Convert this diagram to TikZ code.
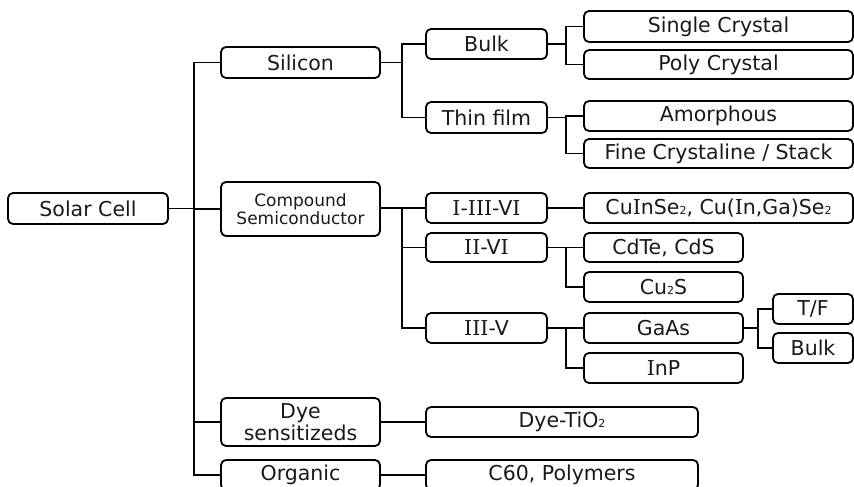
\documentclass[tikz,border=0pt]{standalone}
\usepackage{fontspec}
\setmainfont{DejaVu Sans}
\newfontfamily\serfam{DejaVu Serif}
\newcommand{\smsub}[1]{{\fontsize{11}{11}\selectfont #1}}
\newcommand{\Ii}{{\serfam I}}
\begin{document}
\begin{tikzpicture}[x=1pt,y=-1pt,
  box/.style={draw=black,line width=1.8pt,rounded corners=5pt,inner sep=0pt,align=center,text=black!90,font=\fontsize{20.5}{22}\selectfont},
  link/.style={line width=1.8pt}]
\useasboundingbox (0,0) rectangle (854,487);
\clip (0,0) rectangle (854,487);
% level 0
\node[box,minimum width=160pt,minimum height=31pt] (sc) at (88,208.5) {Solar Cell};
% level 1
\node[box,minimum width=159pt,minimum height=31pt] (si) at (300.5,62.5) {Silicon};
\node[box,minimum width=159pt,minimum height=54pt,font=\fontsize{17}{18.5}\selectfont] (cs) at (300.5,209) {Compound\\Semiconductor};
\node[box,minimum width=159pt,minimum height=48pt] (dye) at (300.5,422) {Dye\\sensitizeds};
\node[box,minimum width=159pt,minimum height=30pt] (org) at (300.5,475) {Organic};
% level 2
\node[box,minimum width=121pt,minimum height=30pt] (bulk) at (486.5,44) {Bulk};
\node[box,minimum width=121pt,minimum height=31pt] (thin) at (486.5,117.5) {Thin film};
\node[box,minimum width=121pt,minimum height=30pt] (i3) at (486.5,208) {\Ii-\Ii\Ii\Ii-V\Ii};
\node[box,minimum width=121pt,minimum height=29pt] (ii6) at (486.5,247.5) {\Ii\Ii-V\Ii};
\node[box,minimum width=121pt,minimum height=30pt] (iii5) at (486.5,328) {\Ii\Ii\Ii-V};
\node[box,minimum width=272pt,minimum height=30pt] (dyet) at (562,422) {Dye-TiO\smsub{2}};
\node[box,minimum width=272pt,minimum height=30pt] (c60) at (562,475) {C60, Polymers};
% level 3
\node[box,minimum width=269pt,minimum height=31pt] (sing) at (718.5,26.5) {Single Crystal};
\node[box,minimum width=269pt,minimum height=29pt] (poly) at (718.5,64.5) {Poly Crystal};
\node[box,minimum width=269pt,minimum height=30pt] (amor) at (718.5,116) {Amorphous};
\node[box,minimum width=269pt,minimum height=29pt] (fine) at (718.5,153.5) {Fine Crystaline / Stack};
\node[box,minimum width=269pt,minimum height=30pt] (cuin) at (718.5,208) {Cu\Ii nSe\smsub{2}, Cu(\Ii n,Ga)Se\smsub{2}};
\node[box,minimum width=159pt,minimum height=29pt] (cdte) at (663.5,247.5) {CdTe, CdS};
\node[box,minimum width=159pt,minimum height=30pt] (cu2s) at (663.5,287) {Cu\smsub{2}S};
\node[box,minimum width=159pt,minimum height=30pt] (gaas) at (663.5,328) {GaAs};
\node[box,minimum width=159pt,minimum height=30pt] (inp) at (663.5,368) {\Ii nP};
% level 4
\node[box,minimum width=80pt,minimum height=30pt] (tf) at (813,309) {T/F};
\node[box,minimum width=80pt,minimum height=30pt] (bulkb) at (813,348) {Bulk};
% junctions
\coordinate (j0) at (194,208.5);
\coordinate (j1) at (402,62.5);
\coordinate (j2) at (402,208);
\coordinate (j3) at (566,44);
\coordinate (j4) at (566,117.5);
\coordinate (j5) at (566,247.5);
\coordinate (j6) at (566,328);
\coordinate (j7) at (758,328);
% connectors
\draw[link] (sc.east) -- (j0);
\draw[link] (j0) |- (si.west);
\draw[link] (j0) |- (cs.west);
\draw[link] (j0) |- (dye.west);
\draw[link] (j0) |- (org.west);
\draw[link] (si.east) -- (j1);
\draw[link] (j1) |- (bulk.west);
\draw[link] (j1) |- (thin.west);
\draw[link] (cs.east |- j2) -- (j2);
\draw[link] (j2) -- (i3.west);
\draw[link] (j2) |- (ii6.west);
\draw[link] (j2) |- (iii5.west);
\draw[link] (bulk.east) -- (j3);
\draw[link] (j3) |- (sing.west);
\draw[link] (j3) |- (poly.west);
\draw[link] (thin.east) -- (j4);
\draw[link] (j4) |- (amor.west);
\draw[link] (j4) |- (fine.west);
\draw[link] (i3.east) -- (cuin.west);
\draw[link] (ii6.east) -- (j5);
\draw[link] (j5) |- (cdte.west);
\draw[link] (j5) |- (cu2s.west);
\draw[link] (iii5.east) -- (j6);
\draw[link] (j6) |- (gaas.west);
\draw[link] (j6) |- (inp.west);
\draw[link] (gaas.east) -- (j7);
\draw[link] (j7) |- (tf.west);
\draw[link] (j7) |- (bulkb.west);
\draw[link] (dye.east) -- (dyet.west);
\draw[link] (org.east) -- (c60.west);
\end{tikzpicture}
\end{document}
